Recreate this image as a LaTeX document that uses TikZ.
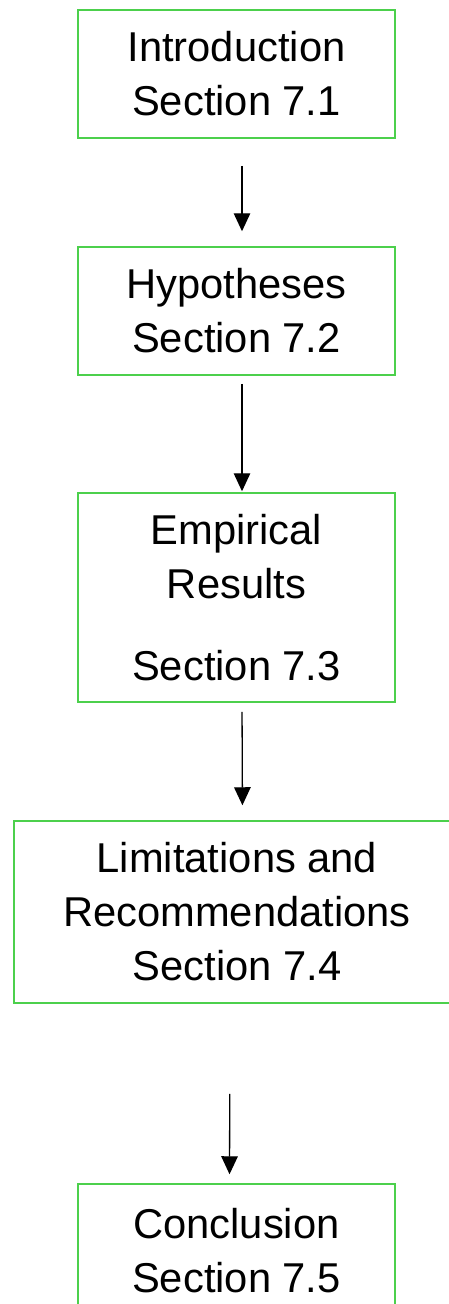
\documentclass[tikz,border=0pt]{standalone}
\usepackage{fontspec}
\setmainfont{Liberation Sans}
\usetikzlibrary{arrows.meta}
\definecolor{boxgreen}{RGB}{76,208,76}
\tikzset{
  sectbox/.style={draw=boxgreen, line width=1.5pt, rectangle, align=center,
    inner sep=0pt, font=\fontsize{41.7}{54}\selectfont},
  arr/.style={draw=black, line width=1.3pt, -{Triangle[width=16.5pt,length=18pt]}}
}
\begin{document}
\begin{tikzpicture}[x=1pt,y=-1pt]
\useasboundingbox (0,0) rectangle (448,1304);
\node[sectbox, minimum width=317pt, minimum height=128pt] (b1) at (236.5,74) {Introduction\\Section 7.1};
\node[sectbox, minimum width=317pt, minimum height=128pt] (b2) at (236.5,311) {Hypotheses\\Section 7.2};
\node[sectbox, minimum width=317pt, minimum height=209pt] (b3) at (236.5,597.5) {Empirical\\Results\\[28pt]Section 7.3};
\node[sectbox, minimum width=446pt, minimum height=182pt] (b4) at (237,912) {Limitations and\\Recommendations\\Section 7.4};
\node[sectbox, minimum width=317pt, minimum height=133pt] (b5) at (236.5,1250.5) {Conclusion\\Section 7.5};
\draw[arr, shorten <=27pt, shorten >=15pt] ([xshift=5.5pt]b1.south) -- ([xshift=5.5pt]b2.north);
\draw[arr, shorten <=8pt, shorten >=1pt] ([xshift=5.5pt]b2.south) -- ([xshift=5.5pt]b3.north);
\draw[arr, shorten <=9pt, shorten >=15pt] ([xshift=5.5pt]b3.south) -- ([xshift=5.5pt]b4.north);
\draw[arr, shorten <=90pt, shorten >=9pt] ([xshift=-7pt]b4.south) -- ([xshift=-7pt]b5.north);
\end{tikzpicture}
\end{document}
